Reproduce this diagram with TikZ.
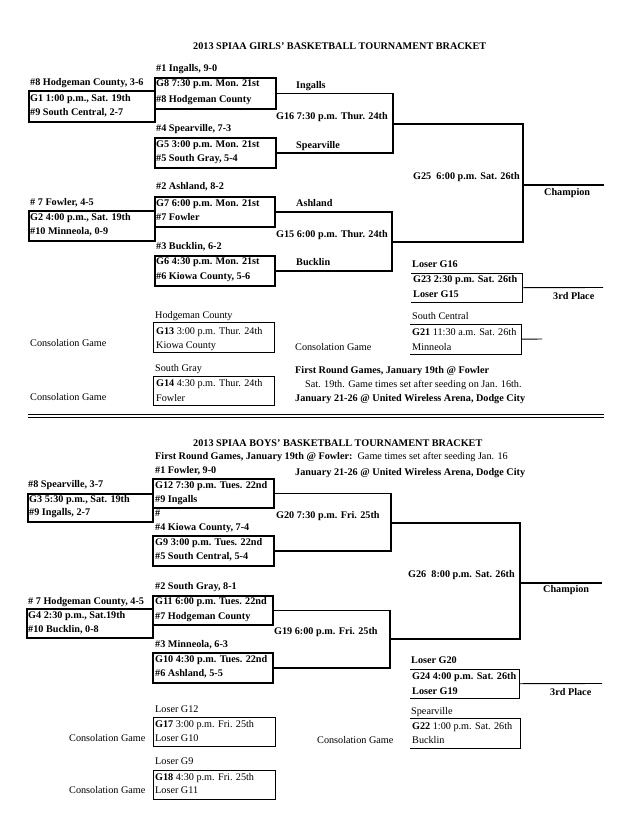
\documentclass[tikz,border=0pt]{standalone}
\usepackage{fontspec}
\setmainfont{Liberation Serif}
\newcommand\bsz{\fontsize{10.2pt}{12pt}\selectfont}
\begin{document}
\begin{tikzpicture}[x=1pt,y=-1pt,
  lbl/.style={anchor=west, inner sep=0pt, text height=7pt, text depth=2pt, font=\bsz\bfseries},
  rlbl/.style={anchor=west, inner sep=0pt, text height=7pt, text depth=2pt, font=\bsz},
  thickbox/.style={draw, line width=1.6pt, anchor=north west, inner sep=0pt},
  thinbox/.style={draw, line width=0.9pt, anchor=north west, inner sep=0pt},
  openbox/.style={anchor=north west, inner sep=0pt},
  bline/.style={line width=1.6pt},
  tline/.style={line width=0.9pt}]
\useasboundingbox[fill=white] (0,0) rectangle (643,833);

% ================= GIRLS =================
\node[lbl] (gtitle) at (193,47) {2013 SPIAA GIRLS' BASKETBALL TOURNAMENT BRACKET};

% first round
\node[lbl] (gt1) at (30,83) {\#8 Hodgeman County, 3-6};
\node[thickbox, minimum width=126pt, minimum height=31pt] (g1) at (28,90) {};
\node[lbl] (g1a) at (30,99) {G1 1:00 p.m., Sat. 19th};
\node[lbl] (g1b) at (30,113) {\#9 South Central, 2-7};

\node[lbl] (gt2) at (30,203) {\# 7 Fowler, 4-5};
\node[thickbox, minimum width=126pt, minimum height=30pt] (g2) at (28,210) {};
\node[lbl] (g2a) at (30,218) {G2 4:00 p.m., Sat. 19th};
\node[lbl] (g2b) at (30,232) {\#10 Minneola, 0-9};

% quarterfinals
\node[lbl] (gt8) at (156,69) {\#1 Ingalls, 9-0};
\node[thickbox, minimum width=121pt, minimum height=31pt] (g8) at (154,77) {};
\node[lbl] (g8a) at (156,84) {G8 7:30 p.m. Mon. 21st};
\node[lbl] (g8b) at (156,100) {\#8 Hodgeman County};

\node[lbl] (gt5) at (156,129) {\#4 Spearville, 7-3};
\node[thickbox, minimum width=121pt, minimum height=30pt] (g5) at (154,137) {};
\node[lbl] (g5a) at (156,145) {G5 3:00 p.m. Mon. 21st};
\node[lbl] (g5b) at (156,159) {\#5 South Gray, 5-4};

\node[lbl] (gt7) at (156,187) {\#2 Ashland, 8-2};
\node[thickbox, minimum width=120pt, minimum height=30pt] (g7) at (154,196) {};
\node[lbl] (g7a) at (156,204) {G7 6:00 p.m. Mon. 21st};
\node[lbl] (g7b) at (156,218) {\#7 Fowler};

\node[lbl] (gt6) at (156,247) {\#3 Bucklin, 6-2};
\node[thickbox, minimum width=120pt, minimum height=30pt] (g6) at (154,255) {};
\node[lbl] (g6a) at (156,262) {G6 4:30 p.m. Mon. 21st};
\node[lbl] (g6b) at (156,277) {\#6 Kiowa County, 5-6};

% semifinals
\node[lbl] (gw8) at (296,86) {Ingalls};
\node[lbl] (gw5) at (296,146) {Spearville};
\node[lbl] (g16l) at (276,117) {G16 7:30 p.m. Thur. 24th};
\coordinate (j16) at (393,124);
\draw[bline] (g8.east) -| (j16) |- (g5.east);

\node[lbl] (gw7) at (296,204) {Ashland};
\node[lbl] (gw6) at (296,263) {Bucklin};
\node[lbl] (g15l) at (276,235) {G15 6:00 p.m. Thur. 24th};
\coordinate (j15) at (392,242);
\draw[bline] (g7.east) -| (j15) |- (g6.east);

% final
\node[lbl] (g25l) at (413,177) {G25\ \ 6:00 p.m. Sat. 26th};
\coordinate (j25) at (523,185);
\coordinate (gchamp) at (604,185);
\draw[bline] (j16) -| (j25) |- (j15);
\draw[bline] (j25) -- (gchamp);
\node[lbl] (gchl) at (544,193) {Champion};

% third place
\node[lbl] (g23t) at (412,265) {Loser G16};
\node[openbox, minimum width=111pt, minimum height=29pt] (g23) at (411,273) {};
\draw[tline] (g23.north west) -- (g23.north east) -- (g23.south east) -- (g23.south west);
\node[lbl] (g23a) at (413,280) {G23 2:30 p.m. Sat. 26th};
\node[lbl] (g23b) at (413,295) {Loser G15};
\coordinate (gthird) at (603,287.5);
\draw[tline] (g23.east) -- (gthird);
\node[lbl] (g3pl) at (553,297) {3rd Place};

% consolation
\node[rlbl] (g13t) at (155,316) {Hodgeman County};
\node[thinbox, minimum width=121pt, minimum height=30pt] (g13) at (153,322) {};
\node[rlbl] (g13a) at (156,332) {\textbf{G13} 3:00 p.m. Thur. 24th};
\node[rlbl] (g13b) at (156,346) {Kiowa County};
\node[rlbl] (gc1) at (30,344) {Consolation Game};

\node[rlbl] (g14t) at (155,369) {South Gray};
\node[thinbox, minimum width=121pt, minimum height=29pt] (g14) at (153,376) {};
\node[rlbl] (g14a) at (156,384) {\textbf{G14} 4:30 p.m. Thur. 24th};
\node[rlbl] (g14b) at (156,399) {Fowler};
\node[rlbl] (gc2) at (30,398) {Consolation Game};

\node[rlbl] (g21t) at (412,317) {South Central};
\node[openbox, minimum width=111pt, minimum height=30pt] (g21) at (410,324) {};
\draw[tline] (g21.north west) -- (g21.north east) -- (g21.south east) -- (g21.south west);
\node[rlbl] (g21a) at (412,333) {\textbf{G21} 11:30 a.m. Sat. 26th};
\node[rlbl] (g21b) at (412,348) {Minneola};
\coordinate (g21e) at (542,339);
\draw[tline] (g21.east) -- (g21e);
\node[rlbl] (gc3) at (295,348) {Consolation Game};

\node[lbl] (gn1) at (295,371) {First Round Games, January 19th @ Fowler};
\node[rlbl] (gn2) at (305,385) {Sat. 19th. Game times set after seeding on Jan. 16th.};
\node[lbl] (gn3) at (295,399) {January 21-26 @ United Wireless Arena, Dodge City};

% separator
\coordinate (sepl1) at (28,414.5);
\coordinate (sepr1) at (604,414.5);
\coordinate (sepl2) at (28,417.5);
\coordinate (sepr2) at (604,417.5);
\draw[line width=1.2pt] (sepl1) -- (sepr1);
\draw[line width=1.2pt] (sepl2) -- (sepr2);

% ================= BOYS =================
\node[lbl] (btitle) at (193,444) {2013 SPIAA BOYS' BASKETBALL TOURNAMENT BRACKET};
\node[lbl] (bn1) at (155,457) {First Round Games, January 19th @ Fowler:\ \ \mdseries Game times set after seeding Jan. 16};
\node[lbl] (bn2) at (295,473) {January 21-26 @ United Wireless Arena, Dodge City};

% first round
\node[lbl] (bt3) at (28,485) {\#8 Spearville, 3-7};
\node[thickbox, minimum width=125pt, minimum height=28pt] (b3) at (27,493) {};
\node[lbl] (b3a) at (29,500) {G3 5:30 p.m., Sat. 19th};
\node[lbl] (b3b) at (29,513) {\#9 Ingalls, 2-7};

\node[lbl] (bt4) at (28,602) {\# 7 Hodgeman County, 4-5};
\node[thickbox, minimum width=126pt, minimum height=29pt] (b4) at (26,608) {};
\node[lbl] (b4a) at (28,616) {G4 2:30 p.m., Sat.19th};
\node[lbl] (b4b) at (28,630) {\#10 Bucklin, 0-8};

% quarterfinals
\node[lbl] (bt12) at (155,471) {\#1 Fowler, 9-0};
\node[thickbox, minimum width=121pt, minimum height=29pt] (b12) at (152,478) {};
\node[lbl] (b12a) at (155,486) {G12 7:30 p.m. Tues. 22nd};
\node[lbl] (b12b) at (155,500) {\#9 Ingalls};
\node[lbl] (bhash) at (155,514) {\#};

\node[lbl] (bt9) at (155,528) {\#4 Kiowa County, 7-4};
\node[thickbox, minimum width=121pt, minimum height=30pt] (b9) at (152,535) {};
\node[lbl] (b9a) at (155,543) {G9 3:00 p.m. Tues. 22nd};
\node[lbl] (b9b) at (155,557) {\#5 South Central, 5-4};

\node[lbl] (bt11) at (155,587) {\#2 South Gray, 8-1};
\node[thickbox, minimum width=120pt, minimum height=29pt] (b11) at (152,595) {};
\node[lbl] (b11a) at (155,602) {G11 6:00 p.m. Tues. 22nd};
\node[lbl] (b11b) at (155,617) {\#7 Hodgeman County};

\node[lbl] (bt10) at (155,645) {\#3 Minneola, 6-3};
\node[thickbox, minimum width=120pt, minimum height=30pt] (b10) at (152,652) {};
\node[lbl] (b10a) at (155,660) {G10 4:30 p.m. Tues. 22nd};
\node[lbl] (b10b) at (155,674) {\#6 Ashland, 5-5};

% semifinals
\node[lbl] (b20l) at (276,516) {G20 7:30 p.m. Fri. 25th};
\coordinate (j20) at (391,523);
\draw[bline] (b12.east) -| (j20) |- (b9.east);

\node[lbl] (b19l) at (274,632) {G19 6:00 p.m. Fri. 25th};
\coordinate (j19) at (390,639);
\draw[bline] (b11.east) -| (j19) |- (b10.east);

% final
\node[lbl] (b26l) at (408,575) {G26\ \ 8:00 p.m. Sat. 26th};
\coordinate (j26) at (520,583);
\coordinate (bchamp) at (602,583);
\draw[bline] (j20) -| (j26) |- (j19);
\draw[bline] (j26) -- (bchamp);
\node[lbl] (bchl) at (543,590) {Champion};

% third place
\node[lbl] (b24t) at (411,661) {Loser G20};
\node[openbox, minimum width=109pt, minimum height=29pt] (b24) at (410,669) {};
\draw[tline] (b24.north west) -- (b24.north east) -- (b24.south east) -- (b24.south west);
\node[lbl] (b24a) at (412,677) {G24 4:00 p.m. Sat. 26th};
\node[lbl] (b24b) at (412,692) {Loser G19};
\coordinate (bthird) at (602,683.5);
\draw[tline] (b24.east) -- (bthird);
\node[lbl] (b3pl) at (550,693) {3rd Place};

% consolation
\node[rlbl] (b17t) at (155,710) {Loser G12};
\node[thinbox, minimum width=122pt, minimum height=29pt] (b17) at (153,717) {};
\node[rlbl] (b17a) at (155,725) {\textbf{G17} 3:00 p.m. Fri. 25th};
\node[rlbl] (b17b) at (155,739) {Loser G10};
\node[rlbl] (bc1) at (69,739) {Consolation Game};

\node[rlbl] (b18t) at (155,762) {Loser G9};
\node[thinbox, minimum width=122pt, minimum height=29pt] (b18) at (153,770) {};
\node[rlbl] (b18a) at (155,778) {\textbf{G18} 4:30 p.m. Fri. 25th};
\node[rlbl] (b18b) at (155,791) {Loser G11};
\node[rlbl] (bc2) at (69,791) {Consolation Game};

\node[rlbl] (b22t) at (411,712) {Spearville};
\node[openbox, minimum width=110pt, minimum height=30pt] (b22) at (410,718) {};
\draw[tline] (b22.north west) -- (b22.north east) -- (b22.south east) -- (b22.south west);
\node[rlbl] (b22a) at (412,727) {\textbf{G22} 1:00 p.m. Sat. 26th};
\node[rlbl] (b22b) at (412,741) {Bucklin};
\node[rlbl] (bc3) at (317,741) {Consolation Game};
\end{tikzpicture}
\end{document}
